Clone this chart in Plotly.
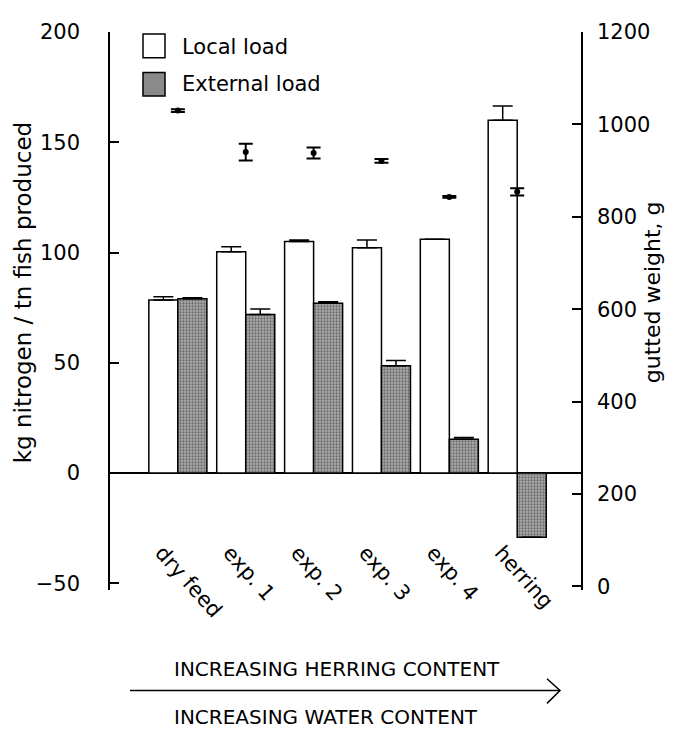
import plotly.graph_objects as go

categories = ["dry feed", "exp. 1", "exp. 2", "exp. 3", "exp. 4", "herring"]
local_load = [78.5, 100.4, 105.0, 102.2, 106.0, 160.0]
local_err = [1.5, 2.2, 0.7, 3.5, 0.0, 6.4]
external_load = [79.0, 71.9, 77.0, 48.7, 15.4, -29.1]
external_err = [0.5, 2.5, 0.7, 2.3, 0.7, 0.0]
gutted_weight = [1030, 940, 938, 921, 843, 854]
gutted_err = [3, 18, 12, 4, 2, 8]

left_ticks = [-50, 0, 50, 100, 150, 200]
right_ticks = [0, 200, 400, 600, 800, 1000, 1200]

# page body has an 8px margin; figure is sized to fit the window exactly
OFF = 8
W, H = 676 - OFF, 732 - OFF
# plot area in reference page pixels
L, R, T, B = 110, 581, 24, 590
FONT = "DejaVu Sans"


def px(x):
    return (x - L) / (R - L)


def py(y):
    return (B - y) / (B - T)


fig = go.Figure()
fig.add_trace(go.Bar(
    x=categories, y=local_load, name="Local load",
    marker=dict(color="white", line=dict(color="black", width=1.5)),
    error_y=dict(type="data", symmetric=False, array=local_err,
                 arrayminus=[0] * len(local_err), color="black",
                 thickness=1.5, width=10),
    showlegend=False,
))
fig.add_trace(go.Bar(
    x=categories, y=external_load, name="External load",
    marker=dict(color="#9a9a9a", line=dict(color="black", width=1.5),
                pattern=dict(shape=".", size=3, solidity=0.45,
                             fgcolor="#2a2a2a", bgcolor="#adadad")),
    error_y=dict(type="data", symmetric=False, array=external_err,
                 arrayminus=[0] * len(external_err), color="black",
                 thickness=1.5, width=10),
    showlegend=False,
))
fig.add_trace(go.Scatter(
    x=categories, y=gutted_weight, yaxis="y2", mode="markers",
    marker=dict(color="black", size=6),
    error_y=dict(type="data", array=gutted_err, color="black",
                 thickness=2, width=7),
    showlegend=False,
))

shapes = []
# legend swatches
shapes.append(dict(type="rect", xref="paper", yref="paper",
                   x0=px(143), x1=px(165), y0=py(50), y1=py(26),
                   line=dict(color="black", width=1.5), fillcolor="white"))
shapes.append(dict(type="rect", xref="paper", yref="paper",
                   x0=px(143), x1=px(165), y0=py(89), y1=py(65),
                   line=dict(color="black", width=1.5), fillcolor="#8a8a8a"))
# arrow
shapes.append(dict(type="line", xref="paper", yref="paper",
                   x0=px(130), x1=px(560), y0=py(692), y1=py(692),
                   line=dict(color="black", width=1.5)))
shapes.append(dict(type="path", xref="paper", yref="paper",
                   path=f"M {px(547)},{py(680)} L {px(560)},{py(692)} L {px(547)},{py(705)}",
                   line=dict(color="black", width=1.5)))

annotations = [
    dict(text="Local load", x=px(180), y=py(39), xref="paper", yref="paper",
         xanchor="left", yanchor="middle", showarrow=False,
         font=dict(size=21, family=FONT, color="black")),
    dict(text="External load", x=px(180), y=py(77), xref="paper", yref="paper",
         xanchor="left", yanchor="middle", showarrow=False,
         font=dict(size=21, family=FONT, color="black")),
    dict(text="kg nitrogen / tn fish produced", x=px(23), y=py(289),
         xref="paper", yref="paper", xanchor="center", yanchor="middle",
         textangle=-90, showarrow=False,
         font=dict(size=23, family=FONT, color="black")),
    dict(text="gutted weight, g", x=px(652), y=py(288),
         xref="paper", yref="paper", xanchor="center", yanchor="middle",
         textangle=-90, showarrow=False,
         font=dict(size=22, family=FONT, color="black")),
    dict(text="INCREASING HERRING CONTENT", x=px(337), y=py(670),
         xref="paper", yref="paper", xanchor="center", yanchor="middle",
         showarrow=False, font=dict(size=20, family=FONT, color="black")),
    dict(text="INCREASING WATER CONTENT", x=px(326), y=py(719),
         xref="paper", yref="paper", xanchor="center", yanchor="middle",
         showarrow=False, font=dict(size=20, family=FONT, color="black")),
]

fig.update_layout(
    width=W, height=H,
    margin=dict(l=L - OFF, r=W - (R - OFF), t=T - OFF, b=H - (B - OFF), pad=0),
    paper_bgcolor="white", plot_bgcolor="white",
    font=dict(family=FONT, color="black", size=21),
    barmode="group", bargap=0.145, bargroupgap=0,
    shapes=shapes, annotations=annotations,
    xaxis=dict(type="category", range=[-1.0, 5.94], showline=False,
               showgrid=False, zeroline=False, ticks="", tickangle=48,
               anchor="free", position=0.098, ticklabelshift=-16,
               tickfont=dict(size=21, family=FONT, color="black")),
    yaxis=dict(range=[-53, 200], tickvals=left_ticks, showline=True,
               linecolor="black", linewidth=1.5, ticks="inside", ticklen=9,
               tickwidth=1.5, tickcolor="black", showgrid=False,
               zeroline=True, zerolinecolor="black", zerolinewidth=1.5,
               ticklabelstandoff=24,
               tickfont=dict(size=21, family=FONT, color="black")),
    yaxis2=dict(range=[-8, 1200], tickvals=right_ticks, overlaying="y",
                side="right", showline=True, linecolor="black", linewidth=1.5,
                ticks="inside", ticklen=9, tickwidth=1.5, tickcolor="black",
                showgrid=False, zeroline=False, ticklabelstandoff=10,
                tickfont=dict(size=21, family=FONT, color="black")),
)

fig.write_html("out.html")
